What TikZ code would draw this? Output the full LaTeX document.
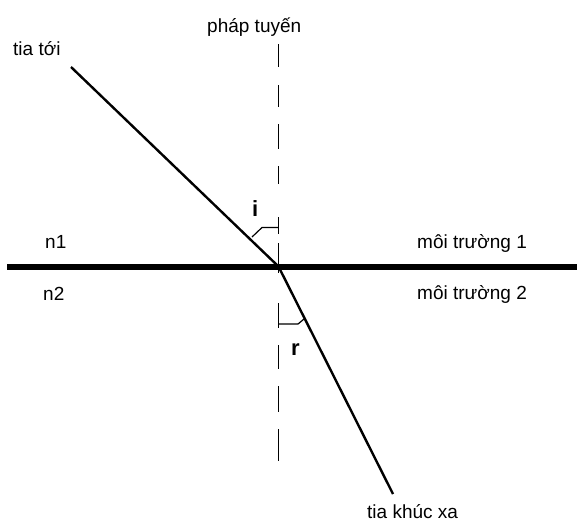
\documentclass[tikz,border=0pt]{standalone}
\usepackage{fontspec}
\setmainfont{Liberation Sans}
\begin{document}
\begin{tikzpicture}[x=1pt,y=-1pt,
  lbl/.style={anchor=base west,inner sep=0pt,font=\fontsize{19}{22}\selectfont},
  anglbl/.style={anchor=base west,inner sep=0pt,font=\fontsize{22}{26}\selectfont\bfseries},
  ray/.style={line width=2.4pt},
  iface/.style={line width=6pt},
  normaldash/.style={line width=1.3pt},
  anglemark/.style={line width=1.2pt}]
\useasboundingbox (0,0) rectangle (577,522);
% key points
\coordinate (O) at (278.5,266.5);
\coordinate (A) at (71,67);
\coordinate (B) at (393,494);
\coordinate (L) at (7,266.5);
\coordinate (R) at (577,266.5);
% interface
\draw[iface] (L) -- (R);
% normal (dashed)
\foreach \ya/\yb in {44/67,85/107,124/149,166/184,217/234,243/273,303/328,345/369,386/412,429/461}
  \draw[normaldash] (278.5,\ya) -- (278.5,\yb);
% rays
\draw[ray] (A) -- (O);
\draw[ray] (O) -- (B);
% angle marks
\coordinate (i1) at (252,237);
\coordinate (i2) at (262,227.5);
\coordinate (i3) at (278.5,227.5);
\draw[anglemark] (i1) -- (i2) -- (i3);
\coordinate (r1) at (278.5,324);
\coordinate (r2) at (298,324);
\coordinate (r3) at (304,319);
\draw[anglemark] (r1) -- (r2) -- (r3);
% labels
\node[lbl] (tiatoi) at (13,55) {tia tới};
\node[lbl] (phaptuyen) at (207,32) {pháp tuyến};
\node[lbl] (n1) at (45,248) {n1};
\node[lbl] (n2) at (43,300) {n2};
\node[lbl] (mt1) at (417,248) {môi trường 1};
\node[lbl] (mt2) at (417,299) {môi trường 2};
\node[lbl] (tiakhucxa) at (367,518) {tia khúc xa};
\node[anglbl] (ilbl) at (252,216) {i};
\node[anglbl] (rlbl) at (291,355) {r};
\end{tikzpicture}
\end{document}
